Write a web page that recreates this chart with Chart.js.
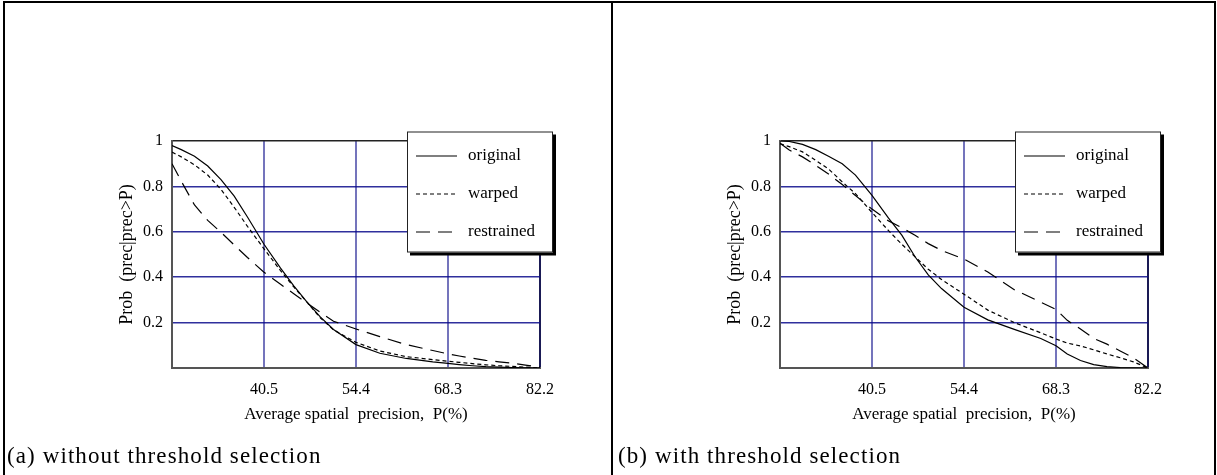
<!DOCTYPE html>
<html>
<head>
<meta charset="utf-8">
<script src="https://cdn.jsdelivr.net/npm/chart.js@4.4.1/dist/chart.umd.min.js"></script>
<style>
  html, body { margin: 0; padding: 0; background: #fff; }
  #page { position: relative; width: 1217px; height: 475px; overflow: hidden; }
  .rule { position: absolute; background: #000; }
  .panel { position: absolute; top: 0; }
  .caption {
    position: absolute;
    top: 444px;
    font-family: 'Liberation Serif', serif;
    font-size: 23px;
    line-height: 23px;
    letter-spacing: 1.1px;
    color: #000;
    white-space: pre;
  }
</style>
</head>
<body>
<div id="page">
  <canvas id="chartA" class="panel" width="600" height="475" style="left:4px"></canvas>
  <canvas id="chartB" class="panel" width="600" height="475" style="left:612px"></canvas>
  <div class="rule" style="left:3px;top:1px;width:1213px;height:2px"></div>
  <div class="rule" style="left:3px;top:1px;width:2px;height:474px"></div>
  <div class="rule" style="left:611px;top:1px;width:2px;height:474px"></div>
  <div class="rule" style="left:1214px;top:1px;width:2px;height:474px"></div>
  <div class="caption" style="left:7px">(a) without threshold selection</div>
  <div class="caption" style="left:618px">(b) with threshold selection</div>
</div>
<script>
'use strict';

// Average spatial precision P(%) sample points
var precision = [26.6, 28, 30, 32, 34, 36, 38, 40.5, 43, 45, 47, 49, 51, 54.4, 58, 62, 66, 68.3, 70, 72, 74, 76, 78, 80, 82.2];

// (a) without threshold selection
var origA = [0.98, 0.962, 0.933, 0.89, 0.83, 0.757, 0.665, 0.545, 0.44, 0.362, 0.29, 0.225, 0.17, 0.103, 0.065, 0.042, 0.027, 0.02, 0.015, 0.01, 0.006, 0.004, 0.002, 0.001, 0];
var warpA = [0.951, 0.93, 0.895, 0.85, 0.787, 0.708, 0.624, 0.525, 0.429, 0.357, 0.29, 0.221, 0.168, 0.113, 0.075, 0.05, 0.037, 0.03, 0.025, 0.019, 0.014, 0.01, 0.007, 0.004, 0];
var restA = [0.90, 0.823, 0.718, 0.65, 0.598, 0.542, 0.487, 0.422, 0.369, 0.327, 0.286, 0.245, 0.206, 0.172, 0.138, 0.103, 0.077, 0.062, 0.053, 0.043, 0.034, 0.027, 0.021, 0.013, 0.003];

// (b) with threshold selection
var origB = [1.0, 0.998, 0.985, 0.962, 0.932, 0.9, 0.85, 0.76, 0.66, 0.585, 0.49, 0.41, 0.35, 0.268, 0.212, 0.17, 0.13, 0.098, 0.062, 0.033, 0.015, 0.006, 0.002, 0.001, 0];
var warpB = [0.988, 0.975, 0.952, 0.915, 0.875, 0.82, 0.768, 0.685, 0.605, 0.545, 0.49, 0.435, 0.39, 0.325, 0.255, 0.2, 0.155, 0.128, 0.11, 0.097, 0.08, 0.062, 0.045, 0.027, 0];
var restB = [0.99, 0.96, 0.93, 0.893, 0.853, 0.808, 0.76, 0.70, 0.648, 0.618, 0.585, 0.548, 0.518, 0.48, 0.423, 0.345, 0.29, 0.258, 0.21, 0.172, 0.13, 0.105, 0.075, 0.045, 0];

var seriesNames = ['original', 'warped', 'restrained'];

var xTickValues = [26.6, 40.5, 54.4, 68.3, 82.2];
var xTickLabels = ['', '40.5', '54.4', '68.3', '82.2'];
var yTickValues = [0, 0.2, 0.4, 0.6, 0.8, 1];
var yTickLabels = ['', '0.2', '0.4', '0.6', '0.8', '1'];

var xTitle = 'Average spatial  precision,  P(%)';
var yTitle = 'Prob  (prec|prec>P)';

var serif = "'Liberation Serif', 'Times New Roman', serif";

// legend box with drop shadow, drawn over the plot
var boxLegend = {
  id: 'boxLegend',
  afterDraw: function(chart) {
    var ctx = chart.ctx;
    var area = chart.chartArea;
    var x = area.left + 235, y = area.top - 9.5, w = 146, h = 121;
    ctx.save();
    ctx.fillStyle = '#000';
    ctx.fillRect(x + 3, y + 3, w, h);
    ctx.fillStyle = '#fff';
    ctx.fillRect(x, y, w, h);
    ctx.strokeStyle = '#222';
    ctx.lineWidth = 1;
    ctx.strokeRect(x + 0.5, y + 0.5, w - 1, h - 1);
    chart.data.datasets.forEach(function(ds, i) {
      var ly = y + 24.5 + i * 38;
      ctx.beginPath();
      ctx.setLineDash(ds.borderDash || []);
      ctx.lineWidth = 1.2;
      ctx.strokeStyle = '#000';
      ctx.moveTo(x + 9, ly);
      ctx.lineTo(x + 50, ly);
      ctx.stroke();
      ctx.setLineDash([]);
      ctx.fillStyle = '#000';
      ctx.font = '17px ' + serif;
      ctx.textBaseline = 'middle';
      ctx.fillText(ds.label, x + 61, ly);
    });
    ctx.restore();
  }
};

function toPoints(values) {
  return precision.map(function(p, i) {
    return { x: p, y: values[i] };
  });
}

function createChart(el, original, warped, restrained) {
  var dashes = [[], [4, 3], [14, 8]];
  var series = [original, warped, restrained];
  return new Chart(el, {
    type: 'line',
    data: {
      datasets: series.map(function(values, i) {
        return {
          label: seriesNames[i],
          data: toPoints(values),
          borderColor: '#000',
          borderWidth: 1.2,
          borderDash: dashes[i],
          pointRadius: 0,
          tension: 0,
          fill: false
        };
      })
    },
    options: {
      responsive: false,
      animation: false,
      devicePixelRatio: 1,
      layout: {
        padding: { top: 141, left: 100, right: 64, bottom: 50 }
      },
      scales: {
        x: {
          type: 'linear',
          min: 26.6,
          max: 82.2,
          afterBuildTicks: function(scale) {
            scale.ticks = xTickValues.map(function(v) { return { value: v }; });
          },
          afterFit: function(scale) { scale.height = 57; },
          grid: {
            drawTicks: false,
            lineWidth: 2,
            color: function(c) {
              return c.tick && c.tick.value === 82.2 ? '#1a1a55' : 'rgba(70,70,165,0.75)';
            }
          },
          border: { display: true, color: '#555', width: 2 },
          ticks: {
            padding: 12,
            maxRotation: 0,
            autoSkip: false,
            color: '#000',
            font: { family: serif, size: 16 },
            callback: function(v, i) { return xTickLabels[i]; }
          },
          title: {
            display: true,
            text: xTitle,
            color: '#000',
            padding: 0,
            font: { family: serif, size: 17 }
          }
        },
        y: {
          type: 'linear',
          min: 0,
          max: 1,
          afterBuildTicks: function(scale) {
            scale.ticks = yTickValues.map(function(v) { return { value: v }; });
          },
          afterFit: function(scale) { scale.width = 68; },
          grid: {
            drawTicks: false,
            lineWidth: 1.5,
            color: function(c) {
              return c.tick && c.tick.value === 1 ? '#222' : 'rgba(10,10,140,0.85)';
            }
          },
          border: { display: true, color: '#555', width: 2 },
          ticks: {
            padding: 9,
            color: '#000',
            font: { family: serif, size: 16 },
            callback: function(v, i) { return yTickLabels[i]; }
          },
          title: {
            display: true,
            text: yTitle,
            color: '#000',
            padding: { top: 12, bottom: 0 },
            font: { family: serif, size: 18 }
          }
        }
      },
      plugins: {
        legend: { display: false },
        title: { display: false },
        tooltip: { enabled: false }
      }
    },
    plugins: [boxLegend]
  });
}

createChart(document.getElementById('chartA'), origA, warpA, restA);
createChart(document.getElementById('chartB'), origB, warpB, restB);
</script>
</body>
</html>
